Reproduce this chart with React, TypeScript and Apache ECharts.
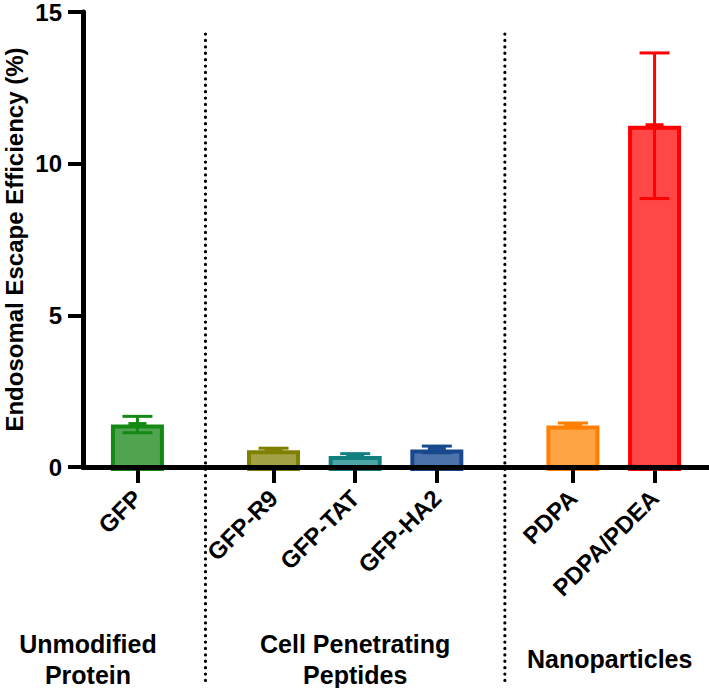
import React, { useEffect, useRef } from "react";
import * as echarts from "echarts";

// ---- data ----
const labels = ["GFP", "GFP-R9", "GFP-TAT", "GFP-HA2", "PDPA", "PDPA/PDEA"];
const means = [1.4, 0.55, 0.36, 0.58, 1.37, 11.25];
const errors = [0.27, 0.07, 0.08, 0.11, 0.08, 2.4];
const groupNames = ["Unmodified\nProtein", "Cell Penetrating\nPeptides", "Nanoparticles"];
const yTicks = [0, 5, 10, 15];
const yTitle = "Endosomal Escape Efficiency (%)";

// ---- layout / style ----
const slots = [2, 7, 10, 13, 18, 21]; // category slot for each bar
const slotCount = 24;
const borderColors = ["#148a14", "#808000", "#138080", "#17498c", "#ff8000", "#ff0000"];
const fillColors = ["#50a450", "#a3a244", "#4ea6a6", "#4c73aa", "#ffa444", "#ff4747"];
const FONT = "'Liberation Sans', Arial, Helvetica, sans-serif";

export default function App() {
  const ref = useRef<HTMLDivElement>(null);

  useEffect(() => {
    if (!ref.current) return;
    const chart = echarts.init(ref.current, null, { renderer: "svg" });

    const xCategories = Array.from({ length: slotCount }, (_, i) => {
      const k = slots.indexOf(i);
      return k >= 0 ? labels[k] : "";
    });
    const data = labels.map((_, i) => [slots[i], means[i], errors[i]]);

    chart.setOption({
      animation: false,
      backgroundColor: "#ffffff",
      grid: { left: 83, right: 0, top: 8, bottom: 221, containLabel: false },
      xAxis: {
        type: "category",
        data: xCategories,
        boundaryGap: false,
        z: 10,
        axisLine: { lineStyle: { color: "#000", width: 5 } },
        axisTick: {
          length: 16,
          interval: (_: number, v: string) => v !== "",
          lineStyle: { color: "#000", width: 4 },
        },
        axisLabel: {
          interval: (_: number, v: string) => v !== "",
          rotate: 45,
          align: "right",
          verticalAlign: "middle",
          margin: 27,
          color: "#000",
          fontSize: 24,
          fontWeight: "bold",
          fontFamily: FONT,
        },
        splitLine: { show: false },
      },
      yAxis: {
        type: "value",
        min: 0,
        max: 15,
        interval: 5,
        z: 10,
        axisLine: { show: true, lineStyle: { color: "#000", width: 5 } },
        axisTick: { show: true, length: 15, lineStyle: { color: "#000", width: 4 } },
        axisLabel: {
          margin: 21,
          color: "#000",
          fontSize: 24,
          fontWeight: "bold",
          fontFamily: FONT,
          formatter: (v: number) => (yTicks.includes(v) ? String(v) : ""),
        },
        splitLine: { show: false },
      },
      series: [
        {
          type: "custom",
          z: 2,
          data,
          encode: { x: 0, y: 1 },
          renderItem: (params: any, api: any) => {
            const i = params.dataIndex;
            const xi = api.value(0);
            const v = api.value(1);
            const e = api.value(2);
            const [cx, top] = api.coord([xi, v]);
            const [, base] = api.coord([xi, 0]);
            const [, hi] = api.coord([xi, v + e]);
            const [, lo] = api.coord([xi, v - e]);
            const w = 53;
            const bw = 4;
            const capW = 30;
            const stroke = borderColors[i];
            return {
              type: "group",
              children: [
                {
                  type: "rect",
                  shape: { x: cx - w / 2 + bw / 2, y: top + bw / 2, width: w - bw, height: base - top },
                  style: { fill: fillColors[i], stroke, lineWidth: bw },
                },
                {
                  type: "line",
                  shape: { x1: cx, y1: hi, x2: cx, y2: lo },
                  style: { stroke, lineWidth: 3 },
                },
                {
                  type: "line",
                  shape: { x1: cx - capW / 2, y1: hi, x2: cx + capW / 2, y2: hi },
                  style: { stroke, lineWidth: 3 },
                },
                {
                  type: "line",
                  shape: { x1: cx - capW / 2, y1: lo, x2: cx + capW / 2, y2: lo },
                  style: { stroke, lineWidth: 3 },
                },
                {
                  type: "line",
                  shape: { x1: cx - 9, y1: top - 1, x2: cx + 9, y2: top - 1 },
                  style: { stroke, lineWidth: 3 },
                },
              ],
            };
          },
        },
      ],
    });

    const px = (slot: number) => chart.convertToPixel({ xAxisIndex: 0 }, slot) as number;
    const py = (v: number) => chart.convertToPixel({ yAxisIndex: 0 }, v) as number;
    const d1 = (px(slots[0]) + px(slots[1])) / 2;
    const d2 = (px(slots[3]) + px(slots[4])) / 2;
    const groupX = [88, px(slots[2]), (px(slots[4]) + px(slots[5])) / 2 - 4];

    const divider = (x: number) => ({
      type: "line",
      z: 20,
      shape: { x1: x, y1: 34, x2: x, y2: 684 },
      style: { stroke: "#000", lineWidth: 3.2, lineDash: [0.1, 6.3], lineCap: "round" },
    });

    chart.setOption({
      graphic: [
        divider(d1),
        divider(d2),
        {
          type: "text",
          z: 20,
          x: 14,
          y: (py(0) + py(15)) / 2,
          rotation: Math.PI / 2,
          style: {
            text: yTitle,
            fill: "#000",
            fontSize: 24,
            fontWeight: "bold",
            fontFamily: FONT,
            align: "center",
            verticalAlign: "middle",
          },
        },
        ...groupNames.map((t, i) => ({
          type: "text",
          z: 20,
          x: groupX[i],
          y: 659,
          style: {
            text: t,
            fill: "#000",
            fontSize: 25,
            fontWeight: "bold",
            fontFamily: FONT,
            align: "center",
            verticalAlign: "middle",
            lineHeight: 31,
          },
        })),
      ],
    });

    return () => chart.dispose();
  }, []);

  return (
    <div
      ref={ref}
      style={{ position: "absolute", left: 0, top: 0, width: 709, height: 688, background: "#fff" }}
    />
  );
}
